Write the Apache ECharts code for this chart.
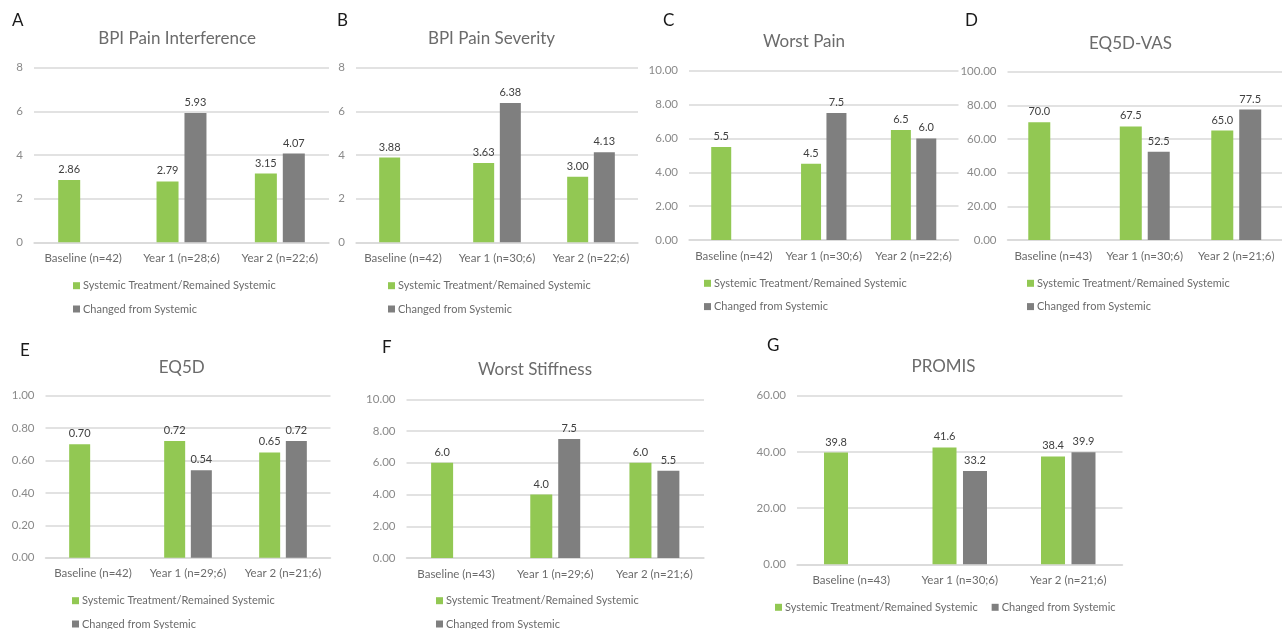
<!DOCTYPE html>
<html>
<head>
<meta charset="utf-8">
<title>Patient-reported outcomes by treatment group</title>
<script src="https://cdn.jsdelivr.net/npm/echarts@6/dist/echarts.min.js"></script>
<style>
  html, body { margin: 0; padding: 0; background: #ffffff; }
  #chart { width: 1282px; height: 629px; }
</style>
</head>
<body>
<div id="chart"></div>
<script>
// ---- data ----
const seriesNames = ['Systemic Treatment/Remained Systemic', 'Changed from Systemic'];

const titleA = 'BPI Pain Interference';
const catsA = ['Baseline (n=42)', 'Year 1 (n=28;6)', 'Year 2 (n=22;6)'];
const remainedA = [2.86, 2.79, 3.15];
const changedA = [null, 5.93, 4.07];
const ticksA = [0, 2, 4, 6, 8];

const titleB = 'BPI Pain Severity';
const catsB = ['Baseline (n=42)', 'Year 1 (n=30;6)', 'Year 2 (n=22;6)'];
const remainedB = [3.88, 3.63, 3.00];
const changedB = [null, 6.38, 4.13];
const ticksB = [0, 2, 4, 6, 8];

const titleC = 'Worst Pain';
const catsC = ['Baseline (n=42)', 'Year 1 (n=30;6)', 'Year 2 (n=22;6)'];
const remainedC = [5.5, 4.5, 6.5];
const changedC = [null, 7.5, 6.0];
const ticksC = [0, 2, 4, 6, 8, 10];

const titleD = 'EQ5D-VAS';
const catsD = ['Baseline (n=43)', 'Year 1 (n=30;6)', 'Year 2 (n=21;6)'];
const remainedD = [70.0, 67.5, 65.0];
const changedD = [null, 52.5, 77.5];
const ticksD = [0, 20, 40, 60, 80, 100];

const titleE = 'EQ5D';
const catsE = ['Baseline (n=42)', 'Year 1 (n=29;6)', 'Year 2 (n=21;6)'];
const remainedE = [0.70, 0.72, 0.65];
const changedE = [null, 0.54, 0.72];
const ticksE = [0, 0.2, 0.4, 0.6, 0.8, 1.0];

const titleF = 'Worst Stiffness';
const catsF = ['Baseline (n=43)', 'Year 1 (n=29;6)', 'Year 2 (n=21;6)'];
const remainedF = [6.0, 4.0, 6.0];
const changedF = [null, 7.5, 5.5];
const ticksF = [0, 2, 4, 6, 8, 10];

const titleG = 'PROMIS';
const catsG = ['Baseline (n=43)', 'Year 1 (n=30;6)', 'Year 2 (n=21;6)'];
const remainedG = [39.8, 41.6, 38.4];
const changedG = [null, 33.2, 39.9];
const ticksG = [0, 20, 40, 60];

// ---- panel assembly ----
const panels = [
  { letter: 'A', title: titleA, cats: catsA, a: remainedA, b: changedA, ticks: ticksA, tickDec: 0, valDec: 2 },
  { letter: 'B', title: titleB, cats: catsB, a: remainedB, b: changedB, ticks: ticksB, tickDec: 0, valDec: 2 },
  { letter: 'C', title: titleC, cats: catsC, a: remainedC, b: changedC, ticks: ticksC, tickDec: 2, valDec: 1 },
  { letter: 'D', title: titleD, cats: catsD, a: remainedD, b: changedD, ticks: ticksD, tickDec: 2, valDec: 1 },
  { letter: 'E', title: titleE, cats: catsE, a: remainedE, b: changedE, ticks: ticksE, tickDec: 2, valDec: 2 },
  { letter: 'F', title: titleF, cats: catsF, a: remainedF, b: changedF, ticks: ticksF, tickDec: 2, valDec: 1 },
  { letter: 'G', title: titleG, cats: catsG, a: remainedG, b: changedG, ticks: ticksG, tickDec: 2, valDec: 1 }
];

// ---- layout (pixels) ----
const layout = [
  { grid: [34, 67.7, 295, 174.6], bw: 22, letter: [12, 21], title: [177, 39], legend: [73, 279.7, 'vertical'] },
  { grid: [356, 67.7, 282, 174.6], bw: 21, letter: [337, 21], title: [491.5, 39], legend: [388, 279.7, 'vertical'] },
  { grid: [689, 70.7, 269.5, 169.3], bw: 20, letter: [663, 21], title: [804, 41.5], legend: [704, 277.3, 'vertical'] },
  { grid: [1007.5, 71.7, 285, 168.3], bw: 22, letter: [965, 21], title: [1130.5, 44], legend: [1027, 277.3, 'vertical'] },
  { grid: [45.5, 395.7, 285, 162], bw: 21, letter: [20, 351], title: [181.7, 368], legend: [72, 594.7, 'vertical'] },
  { grid: [406.5, 399.3, 297.5, 158.7], bw: 22, letter: [382, 348], title: [535, 369.5], legend: [436, 594.7, 'vertical'] },
  { grid: [797, 395.7, 325.5, 168.6], bw: 24, letter: [767, 346], title: [943.5, 366.7], legend: [775, 601.3, 'horizontal'] }
];

const GREEN = '#92c853';
const GREY = '#7f7f7f';
const FONT = 'Lato, "Open Sans", sans-serif';

const grids = [], xAxes = [], yAxes = [], series = [], legends = [], graphics = [];

panels.forEach((p, i) => {
  const L = layout[i];
  const [gl, gt, gw, gh] = L.grid;
  grids.push({ left: gl, top: gt, width: gw, height: gh, containLabel: false });

  xAxes.push({
    type: 'category', gridIndex: i, data: p.cats,
    axisLine: { show: true, lineStyle: { color: '#d9d9d9', width: 1.5 } },
    axisTick: { show: false },
    axisLabel: { interval: 0, margin: 10, color: '#6b6b6b', fontSize: 11.5, fontFamily: FONT }
  });

  const step = p.ticks[1] - p.ticks[0];
  yAxes.push({
    type: 'value', gridIndex: i,
    min: p.ticks[0], max: p.ticks[p.ticks.length - 1], interval: step,
    axisLine: { show: false }, axisTick: { show: false },
    splitLine: { lineStyle: { color: '#d9d9d9', width: 1.5 } },
    axisLabel: {
      margin: 11, color: '#8a8a8a', fontSize: 11.5, fontFamily: FONT,
      formatter: v => v.toFixed(p.tickDec)
    }
  });

  [p.a, p.b].forEach((vals, k) => {
    series.push({
      name: seriesNames[k], type: 'bar', xAxisIndex: i, yAxisIndex: i,
      data: vals, barWidth: L.bw, barGap: '27%',
      itemStyle: { color: k === 0 ? GREEN : GREY },
      label: {
        show: true, position: 'top', distance: 5,
        color: '#404040', fontSize: 11, fontFamily: FONT,
        formatter: prm => (prm.value == null ? '' : Number(prm.value).toFixed(p.valDec))
      },
      emphasis: { disabled: true }
    });
  });

  const [lx, ly, orient] = L.legend;
  const vertical = orient === 'vertical';
  legends.push({
    data: seriesNames, left: lx, top: ly, orient: orient,
    width: vertical ? 300 : 420, height: vertical ? 60 : 20,
    icon: 'rect', itemWidth: 7, itemHeight: 7,
    itemGap: vertical ? 11.3 : 14,
    padding: 0, selectedMode: false,
    textStyle: { color: '#6b6b6b', fontSize: 11, fontFamily: FONT, lineHeight: 12, padding: [0, 0, 0, -2] }
  });

  graphics.push({
    type: 'text', x: L.letter[0], y: L.letter[1],
    style: { text: p.letter, fill: '#1a1a1a', font: '17px ' + FONT, textAlign: 'left', textVerticalAlign: 'middle' }
  });
  graphics.push({
    type: 'text', x: L.title[0], y: L.title[1],
    style: { text: p.title, fill: '#6b6b6b', font: '17px ' + FONT, textAlign: 'center', textVerticalAlign: 'middle' }
  });
});

const chart = echarts.init(document.getElementById('chart'), null, { renderer: 'canvas' });
chart.setOption({
  animation: false,
  backgroundColor: '#ffffff',
  grid: grids, xAxis: xAxes, yAxis: yAxes, series: series,
  legend: legends, graphic: graphics,
  tooltip: { show: false }
});
</script>
</body>
</html>
